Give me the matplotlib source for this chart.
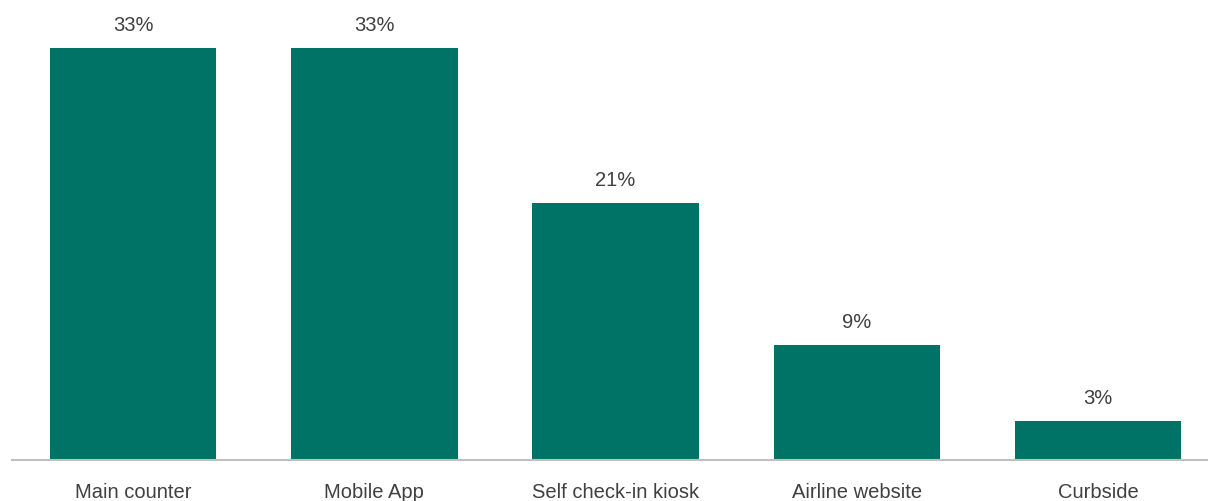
import matplotlib
matplotlib.use("Agg")
from matplotlib import pyplot as plt

categories = ["Main counter", "Mobile App", "Self check-in kiosk", "Airline website", "Curbside"]
values = [33, 33, 20.6, 9.2, 3.05]
labels = ["33%", "33%", "21%", "9%", "3%"]

plt.rcParams['font.family'] = ['Liberation Sans Narrow', 'Liberation Sans', 'DejaVu Sans']

fig = plt.figure(figsize=(12.08, 5.01), dpi=100)
# axes placed so the baseline runs from x=12 to the right edge
px_per_unit = 411.5 / 33
ytop = 36
h = ytop * px_per_unit
ax = fig.add_axes([12 / 1208, 41.5 / 501, 1 - 12 / 1208, h / 501])

x = list(range(len(categories)))
bars = ax.bar(x, values, width=0.69, color="#007366")

for b, lab in zip(bars, labels):
    ax.text(b.get_x() + b.get_width() / 2, b.get_height() + 1.05, lab,
            ha="center", va="bottom", fontsize=14.5, color="#404040")

ax.set_xlim(-0.502, 4.456)
ax.set_ylim(0, ytop)
ax.set_xticks(x)
ax.set_xticklabels(categories, fontsize=14.5, color="#404040")
ax.tick_params(axis="x", length=0, pad=17)
ax.set_yticks([])
for s in ["top", "right", "left"]:
    ax.spines[s].set_visible(False)
ax.spines["bottom"].set_color("#bfbfbf")
ax.spines["bottom"].set_linewidth(1.5)

fig.savefig("out.png", dpi=100)
